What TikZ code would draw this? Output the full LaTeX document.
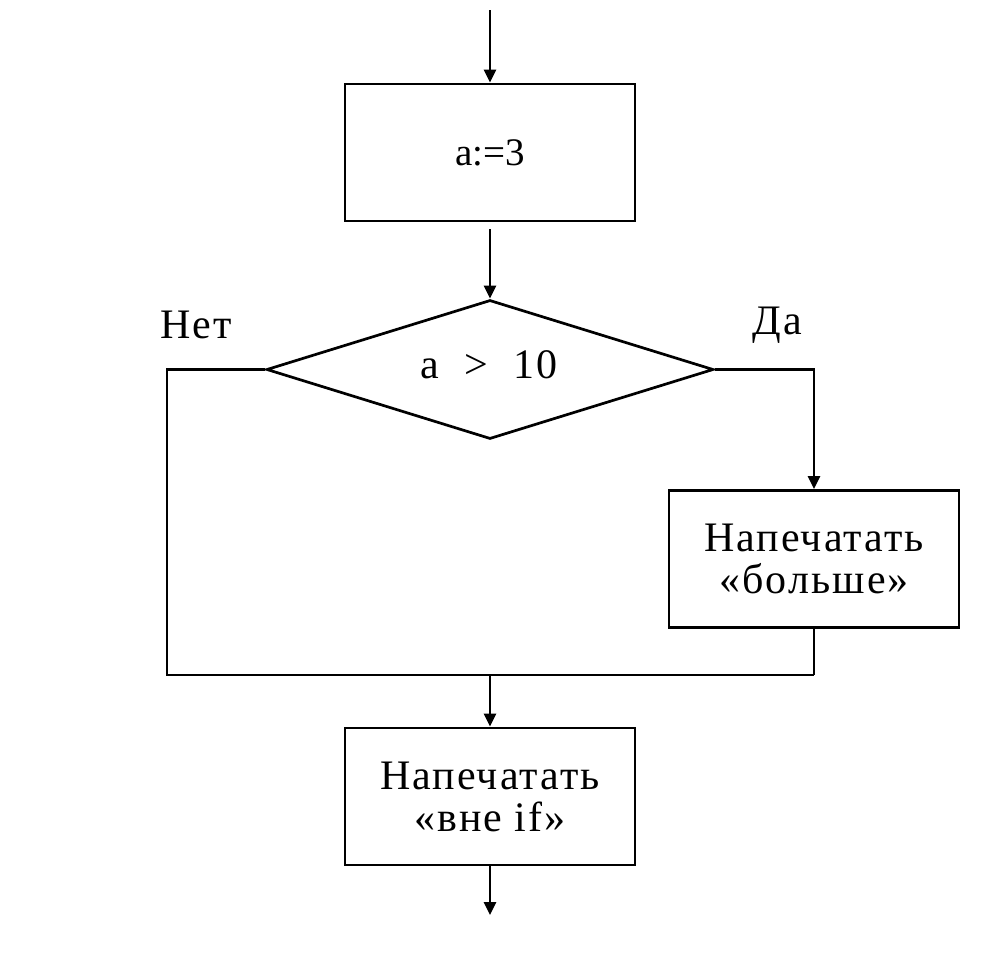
\documentclass[tikz,border=0pt]{standalone}
\usepackage{fontspec}
\setmainfont{Liberation Serif}
\newfontfamily\spaced[LetterSpace=5]{Liberation Serif}
\usetikzlibrary{arrows.meta,shapes.geometric}
\begin{document}
\begin{tikzpicture}[x=1pt,y=-1pt,
  line width=2.7pt,
  arr/.style={-{Triangle[length=13pt,width=12pt]}},
  box/.style={draw,rectangle,minimum width=290pt,minimum height=137pt,inner sep=0pt,align=center,font=\spaced\fontsize{42}{42}\selectfont},
  dec/.style={draw,diamond,minimum width=447pt,minimum height=139pt,aspect=3.22,inner sep=0pt},
  lbl/.style={font=\spaced\fontsize{42}{42}\selectfont,inner sep=0pt}]
\useasboundingbox (0,0) rectangle (986,956);
\coordinate (start) at (490,10);
\node[box,font=\fontsize{39}{42}\selectfont] (b1) at (490,152.5) {a:=3};
\node[dec] (d) at (490,369.5) {};
\node[lbl] (cond) at (489,365) {a\hspace{0.3em} >\hspace{0.3em} 10};
\node[box] (b2) at (814,559) {\raisebox{0pt}{Напечатать}\\«больше»};
\node[box] (b3) at (490,796.5) {Напечатать\\«вне if»};
\node[lbl] (no) at (196,325) {Нет};
\node[lbl] (yes) at (777,325) {Да};
\coordinate (nl) at (167,369.5);
\coordinate (jl) at (167,675);
\coordinate (jr) at (814,675);
\coordinate (join) at (490,675);
\coordinate (end) at (490,915);
\draw[arr] (start) -- (b1.north);
\draw[arr] ([yshift=-7pt]b1.south) -- (d.north);
\draw[arr] (d.east) -| (b2.north);
\draw (d.west) -- (nl) -- (jl) -- (jr);
\draw (b2.south) -- (jr);
\draw[arr] (join) -- (b3.north);
\draw[arr] (b3.south) -- (end);
\end{tikzpicture}
\end{document}
